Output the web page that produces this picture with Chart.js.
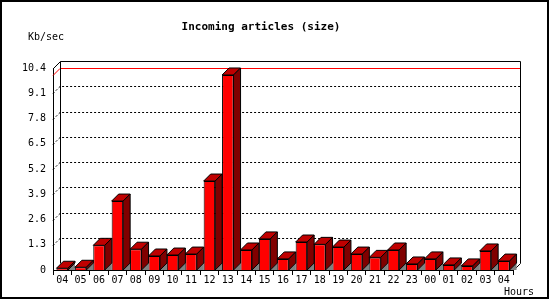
<!DOCTYPE html>
<html>
<head>
<meta charset="utf-8">
<title>Incoming articles (size)</title>
<script src="https://cdn.jsdelivr.net/npm/chart.js@4"></script>
<style>
  html, body { margin: 0; padding: 0; background: #ffffff; }
  canvas { display: block; }
</style>
</head>
<body>
<canvas id="sizeChart" width="550" height="300"></canvas>
<script>
const hours = ['04', '05', '06', '07', '08', '09', '10', '11', '12', '13', '14', '15', '16',
    '17', '18', '19', '20', '21', '22', '23', '00', '01', '02', '03', '04'];
const sizeKbSec = [0.09, 0.14, 1.27, 3.55, 1.07, 0.72, 0.77, 0.82, 4.58, 10.04, 1.03, 1.60, 0.57,
    1.44, 1.32, 1.18, 0.82, 0.65, 1.03, 0.31, 0.57, 0.26, 0.21, 0.98, 0.46];
const yTicks = [0, 1.3, 2.6, 3.9, 5.2, 6.5, 7.8, 9.1, 10.4];

const DEPTH = 7;
const MONO = '"DejaVu Sans Mono", "Liberation Mono", monospace';

function line(ctx, pts) {
    ctx.beginPath();
    ctx.moveTo(pts[0][0], pts[0][1]);
    for (let i = 1; i < pts.length; i++) ctx.lineTo(pts[i][0], pts[i][1]);
}

const frame3d = {
    id: 'frame3d',
    beforeDatasetsDraw(chart) {
        const ctx = chart.ctx;
        const area = chart.chartArea;
        const yScale = chart.scales.y;
        const l = area.left, r = area.right, t = area.top, b = area.bottom;

        ctx.save();
        ctx.lineWidth = 1;

        // dotted grid on left wall and back wall
        ctx.strokeStyle = '#000000';
        ctx.setLineDash([2, 2]);
        yTicks.slice(1, -1).forEach(function (v) {
            const y = Math.round(yScale.getPixelForValue(v)) + 0.5;
            line(ctx, [[l, y], [l + DEPTH, y - DEPTH], [r + DEPTH, y - DEPTH]]);
            ctx.stroke();
        });
        ctx.setLineDash([]);

        // max line
        const maxY = Math.round(yScale.getPixelForValue(Math.max(...sizeKbSec))) + 0.5;
        ctx.strokeStyle = '#ff0000';
        line(ctx, [[l, maxY], [l + DEPTH, maxY - DEPTH], [r + DEPTH, maxY - DEPTH]]);
        ctx.stroke();

        // wall outlines
        ctx.strokeStyle = '#000000';
        const L = Math.round(l) + 0.5, R = Math.round(r) + 0.5;
        const T = Math.round(t) + 0.5, B = Math.round(b) + 0.5;
        line(ctx, [[L, T], [L + DEPTH, T - DEPTH], [R + DEPTH, T - DEPTH], [R + DEPTH, B - DEPTH], [R, B]]);
        ctx.stroke();
        line(ctx, [[L + DEPTH, T - DEPTH], [L + DEPTH, B - DEPTH]]);
        ctx.stroke();

        // grey floor shadows behind bars
        const meta = chart.getDatasetMeta(0);
        ctx.fillStyle = '#808080';
        meta.data.forEach(function (bar) {
            const p = bar.getProps(['x', 'width', 'base'], true);
            const br = p.x + p.width / 2;
            line(ctx, [[br, p.base], [br + DEPTH, p.base - DEPTH], [br + DEPTH, p.base]]);
            ctx.closePath();
            ctx.fill();
        });
        ctx.restore();
    },
    afterDatasetsDraw(chart) {
        const ctx = chart.ctx;
        const meta = chart.getDatasetMeta(0);
        ctx.save();
        ctx.lineWidth = 1;
        ctx.strokeStyle = '#000000';
        meta.data.forEach(function (bar) {
            const p = bar.getProps(['x', 'y', 'width', 'base'], true);
            const bl = p.x - p.width / 2, br = p.x + p.width / 2;
            // top face
            line(ctx, [[bl, p.y], [bl + DEPTH, p.y - DEPTH], [br + DEPTH, p.y - DEPTH], [br, p.y]]);
            ctx.closePath();
            ctx.fillStyle = '#c00000';
            ctx.fill();
            ctx.stroke();
            // side face
            line(ctx, [[br, p.y], [br + DEPTH, p.y - DEPTH], [br + DEPTH, p.base - DEPTH], [br, p.base]]);
            ctx.closePath();
            ctx.fillStyle = '#800000';
            ctx.fill();
            ctx.stroke();
        });
        ctx.restore();
    },
    afterDraw(chart) {
        const ctx = chart.ctx;
        ctx.save();
        ctx.fillStyle = '#000000';
        ctx.textBaseline = 'middle';
        ctx.font = 'bold 11px ' + MONO;
        ctx.textAlign = 'center';
        ctx.fillText('Incoming articles (size)', 261, 27);
        ctx.font = '10px ' + MONO;
        ctx.textAlign = 'left';
        ctx.fillText('Kb/sec', 28, 37);
        ctx.fillText('Hours', 504, 292);
        // image frame
        ctx.strokeStyle = '#000000';
        ctx.lineWidth = 2;
        ctx.strokeRect(1, 1, 547, 297);
        ctx.restore();
    }
};

new Chart(document.getElementById('sizeChart'), {
    type: 'bar',
    data: {
        labels: hours,
        datasets: [{
            label: 'Kb/sec',
            data: sizeKbSec,
            backgroundColor: '#ff0000',
            borderColor: '#000000',
            borderWidth: 1,
            categoryPercentage: 1,
            barPercentage: 0.625
        }]
    },
    options: {
        responsive: false,
        animation: false,
        devicePixelRatio: 1,
        layout: {
            padding: { left: 0, right: 37, top: 68, bottom: 0 }
        },
        plugins: {
            legend: { display: false },
            title: { display: false },
            tooltip: { enabled: false }
        },
        scales: {
            x: {
                afterFit: function (scale) { scale.height = 30; },
                grid: {
                    drawOnChartArea: false,
                    drawTicks: true,
                    tickLength: 5,
                    color: '#000000'
                },
                border: { display: true, color: '#000000' },
                ticks: {
                    color: '#000000',
                    font: { family: MONO, size: 10 },
                    padding: -1,
                    maxRotation: 0,
                    autoSkip: false
                }
            },
            y: {
                min: 0,
                max: 10.4,
                afterFit: function (scale) { scale.width = 53; },
                afterBuildTicks: function (scale) {
                    scale.ticks = yTicks.map(function (v) { return { value: v }; });
                },
                grid: { display: false, drawTicks: false },
                border: { display: true, color: '#000000' },
                ticks: {
                    color: '#000000',
                    font: { family: MONO, size: 10 },
                    padding: 7,
                    callback: function (v) { return v === 0 ? '0' : v.toFixed(1); }
                }
            }
        }
    },
    plugins: [frame3d]
});
</script>
</body>
</html>
